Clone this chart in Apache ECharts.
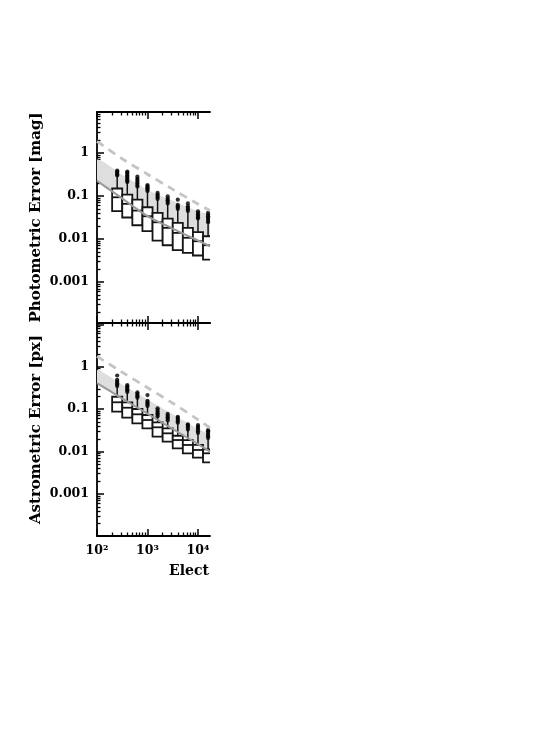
<!DOCTYPE html>
<html>
<head>
<meta charset="utf-8">
<script src="https://cdn.jsdelivr.net/npm/echarts@6/dist/echarts.min.js"></script>
<style>
html, body { margin: 0; padding: 0; background: #fff; }
#chart { width: 559px; height: 747px; }
</style>
</head>
<body>
<div id="chart"></div>
<script>
// bin centres in electrons, bins are 0.2 dex wide
var binCentres = [251, 398, 631, 1000, 1585, 2512, 3981, 6310, 10000, 15850];
var binWidthDex = 0.2;

// photometric error [mag]
var photQ1 = [0.0447, 0.0316, 0.0209, 0.0152, 0.00923, 0.00718, 0.0055, 0.00479, 0.00414, 0.00334];
var photMed = [0.0933, 0.0656, 0.0458, 0.0338, 0.0245, 0.0182, 0.0139, 0.0107, 0.00889, 0.00718];
var photQ3 = [0.149, 0.108, 0.0824, 0.0547, 0.0406, 0.0299, 0.0238, 0.0182, 0.0144, 0.0116];
var photWhisk = [0.297, 0.208, 0.163, 0.1285, 0.0824, 0.0656, 0.0483, 0.0442, 0.0294, 0.0238];
var photOut = [
    [0.30, 0.32, 0.345, 0.37, 0.39],
    [0.21, 0.225, 0.24, 0.26, 0.28, 0.30, 0.325, 0.35, 0.37],
    [0.165, 0.18, 0.195, 0.21, 0.23, 0.25, 0.28],
    [0.13, 0.14, 0.15, 0.16, 0.17, 0.18],
    [0.085, 0.092, 0.1, 0.108, 0.118],
    [0.067, 0.073, 0.08, 0.087, 0.098],
    [0.05, 0.054, 0.058, 0.062, 0.082],
    [0.045, 0.049, 0.053, 0.058, 0.067],
    [0.03, 0.032, 0.0345, 0.037, 0.04, 0.044],
    [0.0245, 0.0265, 0.029, 0.0315, 0.034, 0.037, 0.0405]
];

// astrometric error [px]
var astQ1 = [0.087, 0.0628, 0.0463, 0.0353, 0.0224, 0.0171, 0.0119, 0.0091, 0.00717, 0.00558];
var astMed = [0.145, 0.108, 0.0755, 0.0554, 0.0373, 0.0269, 0.0187, 0.0143, 0.0109, 0.0091];
var astQ3 = [0.196, 0.145, 0.1007, 0.0727, 0.049, 0.0353, 0.0236, 0.0187, 0.0143, 0.0113];
var astWhisk = [0.34, 0.249, 0.18, 0.114, 0.0663, 0.0525, 0.0463, 0.0322, 0.0269, 0.0206];
var astOut = [
    [0.35, 0.38, 0.41, 0.45, 0.49, 0.62],
    [0.255, 0.275, 0.295, 0.32, 0.345, 0.37],
    [0.185, 0.2, 0.215, 0.23, 0.249],
    [0.118, 0.127, 0.137, 0.147, 0.157, 0.215],
    [0.068, 0.074, 0.08, 0.087, 0.095, 0.105],
    [0.054, 0.059, 0.064, 0.07, 0.077],
    [0.048, 0.052, 0.057, 0.062, 0.066],
    [0.033, 0.036, 0.039, 0.042, 0.044],
    [0.0275, 0.03, 0.033, 0.036, 0.039, 0.042],
    [0.021, 0.023, 0.025, 0.0275, 0.03, 0.032]
];

// reference curves, read at these electron counts
var curveX = [100, 300, 1000, 3000, 10000, 17300];
var photDashed = [1.85, 0.76, 0.32, 0.148, 0.065, 0.046];
var photBandTop = [0.70, 0.325, 0.14, 0.0794, 0.044, 0.0338];
var photBandLow = [0.225, 0.0914, 0.034, 0.018, 0.00923, 0.0068];
var astDashed = [1.75, 0.77, 0.32, 0.1437, 0.0568, 0.0361];
var astBandTop = [0.84, 0.39, 0.169, 0.0787, 0.0341, 0.0233];
var astBandLow = [0.41, 0.185, 0.078, 0.0354, 0.0149, 0.01];

// axes (log10 space)
var xMin = 2, xMax = 4.238;
var xMajorTicks = [2, 3, 4];
var xTickLabels = ['10²', '10³', '10⁴'];
var yMajorTicks = [-3, -2, -1, 0, 1];
var yTickLabels = ['0.001', '0.01', '0.1', '1', ''];
var panelYRange = [[-3.95, 0.95], [-3.99, 1.03]];
var panelNames = ['Photometric Error [mag]', 'Astrometric Error [px]'];

var FONT = 'DejaVu Serif';
var lg = Math.log10;

function minorTicks(lo, hi) {
    var out = [];
    for (var d = -5; d <= 5; d++) {
        for (var k = 2; k <= 9; k++) {
            var v = d + lg(k);
            if (v > lo && v < hi) out.push(v);
        }
    }
    return out;
}

function majorIn(ticks, lo, hi) {
    return ticks.filter(function (v) { return v >= lo && v <= hi; });
}

function boxData(q1, med, q3, wh) {
    return binCentres.map(function (c, i) {
        return [lg(c), lg(q1[i]), lg(med[i]), lg(q3[i]), lg(wh[i])];
    });
}

function outlierData(out) {
    var d = [];
    out.forEach(function (list, i) {
        list.forEach(function (v) { d.push([lg(binCentres[i]), lg(v)]); });
    });
    return d;
}

function curveData(ys) {
    return curveX.map(function (x, i) { return [lg(x), lg(ys[i])]; });
}

function renderBox(params, api) {
    var x = api.value(0), lo = api.value(1), med = api.value(2), hi = api.value(3), wh = api.value(4);
    var h = binWidthDex / 2;
    var tl = api.coord([x - h, hi]);
    var br = api.coord([x + h, lo]);
    var m1 = api.coord([x - h, med]);
    var m2 = api.coord([x + h, med]);
    var w0 = api.coord([x, hi]);
    var w1 = api.coord([x, wh]);
    return {
        type: 'group',
        children: [
            { type: 'line', shape: { x1: w0[0], y1: w0[1], x2: w1[0], y2: w1[1] }, style: { stroke: '#111', lineWidth: 1.5 } },
            { type: 'rect', shape: { x: tl[0], y: tl[1], width: br[0] - tl[0], height: br[1] - tl[1] }, style: { fill: '#fff', stroke: '#151515', lineWidth: 1.8 } },
            { type: 'line', shape: { x1: m1[0], y1: m1[1], x2: m2[0], y2: m2[1] }, style: { stroke: '#151515', lineWidth: 1.8 } }
        ]
    };
}

function bandRenderer(top, low) {
    return function (params, api) {
        var pts = [];
        for (var i = 0; i < curveX.length; i++) pts.push(api.coord([lg(curveX[i]), lg(top[i])]));
        for (var j = curveX.length - 1; j >= 0; j--) pts.push(api.coord([lg(curveX[j]), lg(low[j])]));
        return { type: 'polygon', shape: { points: pts, smooth: 0.3 }, style: { fill: '#dedede' } };
    };
}

var grids = [
    { left: 97, top: 112, width: 113, height: 211 },
    { left: 97, top: 323, width: 113, height: 213 }
];

var xAxes = [], yAxes = [], series = [];
var xMinor = minorTicks(xMin, xMax);

[0, 1].forEach(function (g) {
    var yr = panelYRange[g];
    ['bottom', 'top'].forEach(function (pos) {
        xAxes.push({
            gridIndex: g, type: 'value', position: pos, min: xMin, max: xMax,
            axisLine: { show: true, onZero: false, lineStyle: { color: '#000', width: 1.8 } },
            axisTick: { show: true, inside: true, length: 7, customValues: xMajorTicks, lineStyle: { color: '#000', width: 1.5 } },
            axisLabel: {
                show: g === 1 && pos === 'bottom', customValues: xMajorTicks, margin: 8,
                fontFamily: FONT, fontWeight: 'bold', fontSize: 12.5, color: '#000',
                formatter: function (v) { return xTickLabels[xMajorTicks.indexOf(Math.round(v))] || ''; }
            },
            splitLine: { show: false }
        });
        xAxes.push({
            gridIndex: g, type: 'value', position: pos, min: xMin, max: xMax,
            axisLine: { show: false, onZero: false },
            axisTick: { show: true, inside: true, length: 3.5, customValues: xMinor, lineStyle: { color: '#000', width: 1.3 } },
            axisLabel: { show: false },
            splitLine: { show: false }
        });
    });
    var yMaj = majorIn(yMajorTicks, yr[0], yr[1]);
    yAxes.push({
        gridIndex: g, type: 'value', position: 'left', min: yr[0], max: yr[1],
        name: panelNames[g], nameLocation: 'middle', nameGap: 53, nameRotate: 90,
        nameTextStyle: { fontFamily: FONT, fontWeight: 'bold', fontSize: 15, color: '#000' },
        axisLine: { show: true, onZero: false, lineStyle: { color: '#000', width: 1.8 } },
        axisTick: { show: true, inside: true, length: 7, customValues: yMaj, lineStyle: { color: '#000', width: 1.5 } },
        axisLabel: {
            show: true, customValues: yMaj, margin: 8, fontFamily: FONT, fontWeight: 'bold', fontSize: 12.5, color: '#000',
            formatter: function (v) { return yTickLabels[yMajorTicks.indexOf(Math.round(v))] || ''; }
        },
        splitLine: { show: false }
    });
    yAxes.push({
        gridIndex: g, type: 'value', position: 'left', min: yr[0], max: yr[1],
        axisLine: { show: false, onZero: false },
        axisTick: { show: true, inside: true, length: 3.5, customValues: minorTicks(yr[0], yr[1]), lineStyle: { color: '#000', width: 1.3 } },
        axisLabel: { show: false },
        splitLine: { show: false }
    });

    var q1 = g === 0 ? photQ1 : astQ1, med = g === 0 ? photMed : astMed;
    var q3 = g === 0 ? photQ3 : astQ3, wh = g === 0 ? photWhisk : astWhisk;
    var out = g === 0 ? photOut : astOut;
    var top = g === 0 ? photBandTop : astBandTop, low = g === 0 ? photBandLow : astBandLow;
    var dashed = g === 0 ? photDashed : astDashed;
    var xi = g * 4, yi = g * 2;

    series.push({
        type: 'custom', xAxisIndex: xi, yAxisIndex: yi, clip: true, z: 1, silent: true,
        renderItem: bandRenderer(top, low), data: [[3, -1]]
    });
    series.push({
        type: 'custom', xAxisIndex: xi, yAxisIndex: yi, clip: true, z: 2, silent: true,
        renderItem: renderBox, data: boxData(q1, med, q3, wh),
        encode: { x: 0, y: [1, 2, 3, 4] }
    });
    series.push({
        type: 'scatter', xAxisIndex: xi, yAxisIndex: yi, z: 3, silent: true,
        symbol: 'circle', symbolSize: 4.2, itemStyle: { color: '#000' },
        data: outlierData(out)
    });
    series.push({
        type: 'line', xAxisIndex: xi, yAxisIndex: yi, z: 4, silent: true, smooth: 0.3,
        showSymbol: false, lineStyle: { color: '#9a9a9a', width: 2 },
        data: curveData(low)
    });
    series.push({
        type: 'line', xAxisIndex: xi, yAxisIndex: yi, z: 4, silent: true, smooth: 0.3,
        showSymbol: false, lineStyle: { color: '#c4c4c4', width: 2.8, type: [8, 6] },
        data: curveData(dashed)
    });
});

var chart = echarts.init(document.getElementById('chart'), null, { renderer: 'canvas' });
chart.setOption({
    animation: false,
    backgroundColor: '#fff',
    grid: grids,
    xAxis: xAxes,
    yAxis: yAxes,
    series: series,
    graphic: [{
        type: 'text', left: 169, top: 564,
        style: { text: 'Elect', fontFamily: FONT, fontWeight: 'bold', fontSize: 14, fill: '#000' }
    }]
});
</script>
</body>
</html>
